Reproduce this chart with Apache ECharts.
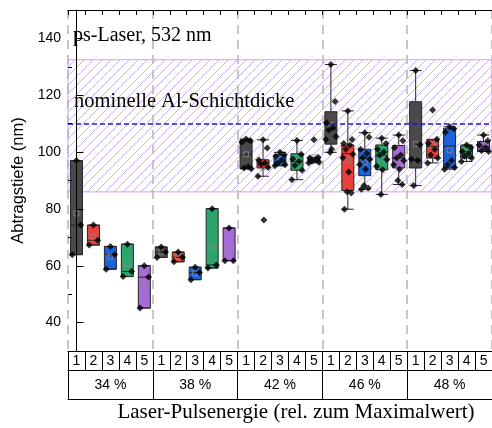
<!DOCTYPE html>
<html>
<head>
<meta charset="utf-8">
<script src="https://cdn.jsdelivr.net/npm/echarts@6/dist/echarts.min.js"></script>
<style>
html,body{margin:0;padding:0;background:#fff;}
#chart{width:492px;height:428px;}
</style>
</head>
<body>
<div id="chart"></div>
<script>
// ---------- data ----------
const groups = ['34 %', '38 %', '42 %', '46 %', '48 %'];
const subLabels = ['1', '2', '3', '4', '5'];
const yTickLabels = [40, 60, 80, 100, 120, 140];
const yMinorTicks = [50, 70, 90, 110, 130];
const nominalThickness = 110;
const toleranceBand = [86, 132.5];

// box statistics: [lower whisker, Q1, median, Q3, upper whisker]
const boxes34 = [[63.9,63.9,74.3,97.0,97.0],[67.3,67.3,69.0,74.3,74.3],[58.8,58.8,64.0,66.8,66.8],[56.2,56.2,58.0,67.6,67.6],[45.1,45.1,56.0,60.0,60.0]];
const boxes38 = [[62.9,62.9,64.8,66.6,66.6],[61.4,61.4,63.0,64.8,64.8],[55.1,55.1,57.6,59.5,59.5],[59.2,59.2,60.3,80.1,80.1],[61.8,61.8,61.8,73.3,73.3]];
const boxes42 = [[94.1,94.2,99.1,104.3,104.6],[91.5,94.4,96.2,97.3,104.3],[95.2,95.2,96.7,99.1,99.9],[90.3,93.6,96.7,99.4,104.1],[96.2,96.5,97.2,97.9,98.2]];
const boxes46 = [[99.9,102.8,108.0,114.2,130.8],[79.9,86.5,99.5,102.5,114.5],[86.9,91.7,97.9,101.0,106.8],[85.1,93.8,98.7,102.5,104.9],[88.6,94.4,97.9,102.3,106.0]];
const boxes48 = [[88.2,94.4,97.3,117.7,128.7],[96.2,97.9,102.0,104.3,104.5],[94.0,94.4,102.1,108.4,108.9],[96.7,97.9,100.2,102.2,102.5],[100.2,100.2,102.0,103.7,106.0]];

// individual measurements
const points34 = [[97.0,74.3,63.9],[74.3,69.0,67.3],[66.8,64.0,58.8],[67.6,58.0,56.2],[60.0,56.0,45.1]];
const points38 = [[66.6,64.8,62.9],[64.8,63.0,61.4],[59.5,57.6,55.1],[80.1,60.3,59.2],[73.3,61.8,61.8]];
const points42 = [[104.6,104.0,103.5,94.8,94.4,94.1],[104.3,101.4,97.2,96.2,95.6,94.6,91.5,76.1],[99.9,99.1,98.5,97.2,96.2,95.5,95.2],[104.1,99.2,97.6,96.7,95.3,93.6,90.3],[104.3,98.2,97.9,97.4,96.9,96.4,96.2]];
const points46 = [[130.8,117.8,110.3,108.6,107.8,105.5,104.4,101.0,99.9],[114.5,104.4,103.0,102.4,101.0,99.2,98.0,93.0,86.0,85.6,79.9],[106.8,105.2,101.0,99.5,98.0,97.5,95.6,94.0,88.2,87.4,86.9],[104.9,103.0,101.0,100.0,99.0,97.4,95.0,93.8,85.1],[106.0,104.0,101.5,99.0,97.9,97.0,95.5,94.0,90.0,88.6]];
const points48 = [[128.7,102.6,97.6,97.0,88.2],[114.8,104.5,103.0,101.0,99.0,97.9,96.2],[108.9,108.2,107.0,97.0,95.5,94.6,94.0],[102.5,101.5,100.2,99.5,98.5,97.9,96.7],[106.0,104.0,102.5,101.5,100.5,100.2]];

// ---------- build ----------
const boxColors = ['#4a4a4a', '#e8403c', '#1d62d8', '#2ba56b', '#a76ad9'];
const allBoxes = [].concat(boxes34, boxes38, boxes42, boxes46, boxes48);
const allPoints = [].concat(points34, points38, points42, points46, points48);
const cats = [];
groups.forEach(() => subLabels.forEach(s => cats.push(s)));

const boxData = allBoxes.map((b, i) => ({
  value: b,
  itemStyle: { color: boxColors[i % 5], borderColor: '#262626', borderWidth: 1 }
}));
const jitter = [0, 0.25, -0.25, 0.12, -0.12, 0.3, -0.3, 0.05, -0.05, 0.2, -0.2];
const scatterData = [];
allPoints.forEach((arr, i) => arr.forEach((v, j) => scatterData.push([i + jitter[j % jitter.length], v])));
const meanData = allPoints.map((arr, i) => [i, arr.reduce((a, b) => a + b, 0) / arr.length]);

// hatch pattern
const tile = document.createElement('canvas');
tile.width = 9; tile.height = 9;
const tc = tile.getContext('2d');
tc.strokeStyle = '#cdadf3';
tc.lineWidth = 1;
tc.beginPath();
tc.moveTo(0, 9); tc.lineTo(9, 0);
tc.moveTo(-1, 1); tc.lineTo(1, -1);
tc.moveTo(8, 10); tc.lineTo(10, 8);
tc.stroke();

const sans = 'Liberation Sans';
const serif = 'Liberation Serif';

const chart = echarts.init(document.getElementById('chart'), null, { renderer: 'canvas' });
chart.setOption({
  animation: false,
  backgroundColor: '#fff',
  grid: { left: 68, top: 10, width: 429, height: 343, containLabel: false },
  xAxis: [
    { type: 'category', data: cats, position: 'bottom', boundaryGap: true, z: 10,
      axisLine: { lineStyle: { color: '#000', width: 1 } },
      axisTick: { show: true, interval: 0, length: 19, inside: false, lineStyle: { color: '#000' } },
      axisLabel: { interval: 0, margin: 3, fontSize: 14, color: '#000', fontFamily: sans },
      splitLine: { show: false } },
    { type: 'category', data: cats, position: 'top', boundaryGap: true, z: 10,
      axisLine: { lineStyle: { color: '#000', width: 1 } },
      axisTick: { show: true, interval: 0, length: 5, inside: true, lineStyle: { color: '#000' } },
      axisLabel: { show: false }, splitLine: { show: false } },
    { type: 'category', data: groups, position: 'bottom', offset: 19, boundaryGap: true,
      axisLine: { lineStyle: { color: '#000', width: 1 } },
      axisTick: { show: true, interval: 0, length: 29, inside: false, lineStyle: { color: '#000' } },
      axisLabel: { interval: 0, margin: 8, fontSize: 14, color: '#000', fontFamily: sans },
      splitLine: { show: true, interval: 0, lineStyle: { color: '#c6c6c6', width: 2, type: [9, 6] } } },
    { type: 'category', data: groups, position: 'bottom', offset: 48,
      axisLine: { lineStyle: { color: '#000', width: 1 } },
      axisTick: { show: false }, axisLabel: { show: false }, splitLine: { show: false },
      name: 'Laser-Pulsenergie (rel. zum Maximalwert)', nameLocation: 'middle', nameGap: 3,
      nameTextStyle: { fontFamily: serif, fontSize: 21, color: '#000', verticalAlign: 'top', padding: [0, 0, 0, 32] } },
    { type: 'value', min: -0.5, max: 24.5, show: false }
  ],
  yAxis: [
    { type: 'value', min: 30, max: 150, position: 'left', z: 10,
      axisLine: { show: true, lineStyle: { color: '#000', width: 1 } },
      axisTick: { show: true, inside: true, length: 7, customValues: yTickLabels, lineStyle: { color: '#000' } },
      axisLabel: { customValues: yTickLabels, fontSize: 14, color: '#000', fontFamily: sans, margin: 7 },
      splitLine: { show: false },
      name: 'Abtragstiefe (nm)', nameLocation: 'middle', nameGap: 33,
      nameTextStyle: { fontFamily: sans, fontSize: 16.5, color: '#000' } },
    { type: 'value', min: 30, max: 150, position: 'left', z: 10,
      axisLine: { show: false },
      axisTick: { show: true, inside: true, length: 4, customValues: yMinorTicks, lineStyle: { color: '#000' } },
      axisLabel: { show: false }, splitLine: { show: false } }
  ],
  series: [
    { type: 'line', xAxisIndex: 0, yAxisIndex: 0, data: [], silent: true,
      markArea: { silent: true,
        itemStyle: { color: { image: tile, repeat: 'repeat' }, borderColor: '#c9a3f2', borderWidth: 1 },
        data: [[{ yAxis: toleranceBand[0] }, { yAxis: toleranceBand[1] }]] },
      markLine: { silent: true, symbol: ['none', 'none'], label: { show: false },
        lineStyle: { color: '#1a1ad8', width: 1.5, type: [5, 3] },
        data: [{ yAxis: nominalThickness }] } },
    { type: 'boxplot', xAxisIndex: 0, yAxisIndex: 0, data: boxData, boxWidth: [12, 12], z: 3 },
    { type: 'scatter', xAxisIndex: 0, yAxisIndex: 0, data: meanData, symbol: 'rect', symbolSize: 5, z: 4,
      itemStyle: { color: 'rgba(0,0,0,0)', borderColor: '#8a8a8a', borderWidth: 1 } },
    { type: 'scatter', xAxisIndex: 4, yAxisIndex: 0, data: scatterData, symbol: 'diamond', symbolSize: 7, z: 5,
      itemStyle: { color: '#000' } }
  ],
  graphic: [
    { type: 'text', left: 73, top: 26, z: 10,
      style: { text: 'ps-Laser, 532 nm', font: '20px "Liberation Serif"', fill: '#000' } },
    { type: 'text', left: 74, top: 91, z: 10,
      style: { text: 'nominelle Al-Schichtdicke', font: '20.5px "Liberation Serif"', fill: '#000' } }
  ]
});
</script>
</body>
</html>
